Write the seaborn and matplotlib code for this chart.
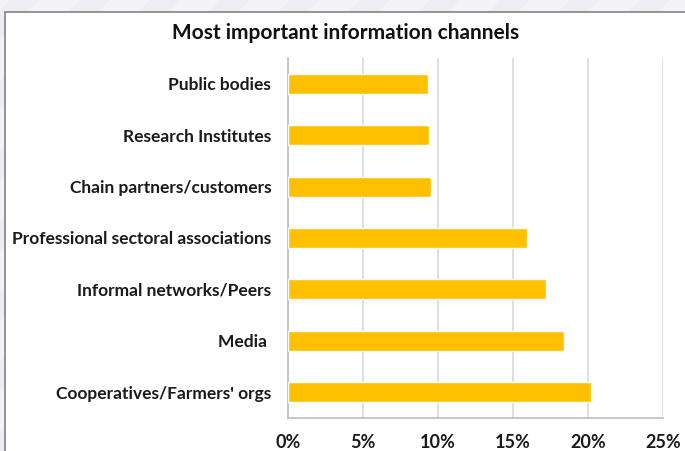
import matplotlib
matplotlib.use("Agg")
import matplotlib.pyplot as plt
import matplotlib.patches as mpatches
import seaborn as sns
import pandas as pd

# Survey shares of the most important information channels (percent)
channels = [
    "Public bodies",
    "Research Institutes",
    "Chain partners/customers",
    "Professional sectoral associations",
    "Informal networks/Peers",
    "Media ",
    "Cooperatives/Farmers' orgs",
]
shares = [9.3, 9.4, 9.5, 15.9, 17.2, 18.4, 20.2]
x_ticks = [0, 5, 10, 15, 20, 25]
x_tick_labels = ["0%", "5%", "10%", "15%", "20%", "25%"]
title = "Most important information channels"

df = pd.DataFrame({"channel": channels, "share": shares})

sns.set_theme(style="white")
plt.rcParams["font.family"] = ["Lato", "DejaVu Sans"]

W, H = 685, 451
fig = plt.figure(figsize=(W / 100, H / 100), dpi=100)
fig.patch.set_facecolor("white")

# faint slide background showing around the chart frame
bg = fig.add_axes([0, 0, 1, 1], zorder=-10)
bg.set_xlim(0, W)
bg.set_ylim(H, 0)
bg.axis("off")
bg.add_patch(mpatches.Rectangle((0, 0), W, H, color="#f3f3f8", lw=0))
for x0 in range(-200, W + 200, 70):
    bg.add_patch(mpatches.Polygon([(x0, 0), (x0 + 30, 0), (x0 - 420, H), (x0 - 450, H)],
                                  closed=True, color="#e8e8f1", lw=0, alpha=0.5))
# chart frame
bg.add_patch(mpatches.Rectangle((5, 12), W + 10, H, facecolor="white",
                                edgecolor="#8c8c8c", lw=1.3))

ax = fig.add_axes([288 / W, 1 - 418 / H, (663 - 288) / W, (418 - 58) / H])
sns.barplot(data=df, x="share", y="channel", orient="h", color="#FFC000",
            width=0.39, saturation=1, ax=ax, zorder=3)

ax.set_xlim(0, 25)
ax.set_xticks(x_ticks)
ax.set_xticklabels(x_tick_labels, fontsize=13, fontweight="bold", color="#1a1a1a")
ax.tick_params(axis="x", length=0, pad=11.5)
ax.tick_params(axis="y", length=0, pad=12)
for lab in ax.get_yticklabels():
    lab.set_fontsize(12.5)
    lab.set_fontweight("bold")
    lab.set_color("#1a1a1a")
ax.set_xlabel("")
ax.set_ylabel("")
ax.xaxis.grid(True, color="#d9d9d9", lw=1.2, zorder=0)
ax.yaxis.grid(False)
ax.set_facecolor("white")
for side in ["top", "right"]:
    ax.spines[side].set_visible(False)
for side in ["left", "bottom"]:
    ax.spines[side].set_visible(True)
    ax.spines[side].set_color("#bfbfbf")
    ax.spines[side].set_linewidth(1.2)

fig.text(346 / W, 1 - 33 / H, title, ha="center", va="center",
         fontsize=15, fontweight="bold", color="#111111")

fig.savefig("out.png", dpi=100)
